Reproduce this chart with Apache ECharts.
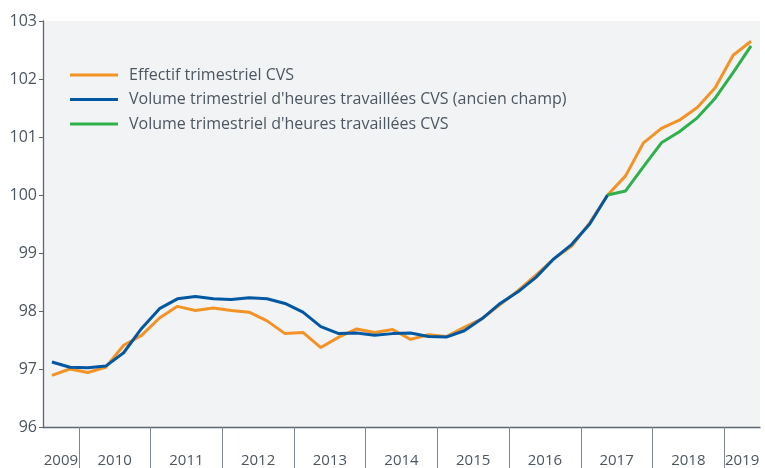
<!DOCTYPE html>
<html>
<head>
    <meta charset="utf-8">
    <title>Effectif et volume d'heures travaillées</title>
    <script src="https://cdn.jsdelivr.net/npm/echarts@6/dist/echarts.min.js"></script>
    <style>
        html, body { margin: 0; padding: 0; background: #fff; }
        #main { width: 765px; height: 468px; }
    </style>
</head>
<body>
<div id="main"></div>
<script type="text/javascript">
    // années affichées et nombre de trimestres de chaque année (2009 T3 -> 2019 T2)
    var years = ['2009', '2010', '2011', '2012', '2013', '2014', '2015', '2016', '2017', '2018', '2019'];
    var quartersInYear = [2, 4, 4, 4, 4, 4, 4, 4, 4, 4, 2];
    var firstQuarter = 3;

    var seriesNames = [
        'Effectif trimestriel CVS',
        "Volume trimestriel d'heures travaillées CVS (ancien champ)",
        "Volume trimestriel d'heures travaillées CVS"
    ];

    // indice base 100
    var effectif = [
        96.89, 97.00, 96.94, 97.03, 97.41, 97.58, 97.88, 98.08, 98.01, 98.05,
        98.01, 97.98, 97.83, 97.61, 97.63, 97.37, 97.55, 97.69, 97.63, 97.68,
        97.51, 97.59, 97.56, 97.72, 97.87, 98.11, 98.35, 98.62, 98.90, 99.12,
        99.52, 100.00, 100.33, 100.90, 101.15, 101.29, 101.51, 101.85, 102.41, 102.65
    ];
    var volumeAncien = [
        97.12, 97.03, 97.02, 97.05, 97.28, 97.70, 98.04, 98.21, 98.25, 98.21,
        98.20, 98.23, 98.21, 98.13, 97.98, 97.73, 97.61, 97.62, 97.58, 97.61,
        97.62, 97.56, 97.55, 97.66, 97.87, 98.13, 98.33, 98.58, 98.90, 99.15,
        99.50, 100.00, null, null, null, null, null, null, null, null
    ];
    var volumeNouveau = [
        null, null, null, null, null, null, null, null, null, null,
        null, null, null, null, null, null, null, null, null, null,
        null, null, null, null, null, null, null, null, null, null,
        null, 100.00, 100.07, 100.49, 100.90, 101.09, 101.33, 101.67, 102.11, 102.57
    ];

    // catégories trimestrielles
    var quarters = [];
    for (var i = 0; i < years.length; i++) {
        var q0 = (i === 0) ? firstQuarter : 1;
        for (var q = 0; q < quartersInYear[i]; q++) {
            quarters.push(years[i] + ' T' + (q0 + q));
        }
    }

    // axe secondaire : une catégorie par frontière de trimestre (0..40)
    var boundaries = [];
    for (var b = 0; b <= quarters.length; b++) boundaries.push(String(b));
    var yearStart = {};   // frontière -> trait long
    var yearMiddle = {};  // frontière -> libellé de l'année
    var pos = 0;
    for (var j = 0; j < years.length; j++) {
        if (j > 0) yearStart[pos] = true;
        yearMiddle[pos + quartersInYear[j] / 2] = years[j];
        pos += quartersInYear[j];
    }

    var textColor = '#4c5660';
    var axisColor = '#5b6670';
    var fontFamily = '"Open Sans", "Liberation Sans", sans-serif';

    var myChart = echarts.init(document.getElementById('main'));
    var option = {
        animation: false,
        color: ['#f39325', '#0058a3', '#2eb04b'],
        grid: {
            left: 43, right: 5, top: 21, bottom: 41,
            show: true,
            backgroundColor: '#f2f3f5',
            borderWidth: 0
        },
        legend: {
            orient: 'vertical',
            left: 70,
            top: 67,
            padding: 0,
            itemWidth: 48,
            itemHeight: 3,
            itemGap: 8.5,
            icon: 'rect',
            textStyle: {
                color: textColor,
                fontSize: 16,
                fontFamily: fontFamily,
                lineHeight: 16,
                padding: [0, 0, 0, 6]
            },
            data: seriesNames
        },
        xAxis: [
            {
                type: 'category',
                data: quarters,
                boundaryGap: true,
                axisLine: { lineStyle: { color: axisColor, width: 1.3 } },
                axisTick: { interval: 0, length: 5, lineStyle: { color: axisColor, width: 1 } },
                axisLabel: { show: false },
                splitLine: { show: false }
            },
            {
                type: 'category',
                data: boundaries,
                boundaryGap: false,
                position: 'bottom',
                axisLine: { show: false },
                axisTick: {
                    show: true,
                    length: 42,
                    interval: function (idx) { return !!yearStart[idx]; },
                    lineStyle: { color: '#7d868e', width: 1 }
                },
                axisLabel: {
                    interval: function (idx) { return yearMiddle[idx] !== undefined; },
                    formatter: function (v, idx) { return yearMiddle[idx] || ''; },
                    margin: 26,
                    color: textColor,
                    fontSize: 15,
                    fontFamily: fontFamily
                },
                splitLine: { show: false }
            }
        ],
        yAxis: {
            type: 'value',
            min: 96,
            max: 103,
            interval: 1,
            axisLine: { show: true, lineStyle: { color: axisColor, width: 1.3 } },
            axisTick: { show: true, length: 4, lineStyle: { color: axisColor } },
            axisLabel: { color: textColor, fontSize: 16, fontFamily: fontFamily, margin: 6 },
            splitLine: { show: false }
        },
        series: [
            {
                name: seriesNames[0], type: 'line', data: effectif,
                showSymbol: false, symbol: 'none', lineStyle: { width: 3 }, z: 2
            },
            {
                name: seriesNames[1], type: 'line', data: volumeAncien,
                showSymbol: false, symbol: 'none', lineStyle: { width: 3 }, z: 3
            },
            {
                name: seriesNames[2], type: 'line', data: volumeNouveau,
                showSymbol: false, symbol: 'none', lineStyle: { width: 3 }, z: 3
            }
        ]
    };
    myChart.setOption(option);
</script>
</body>
</html>
